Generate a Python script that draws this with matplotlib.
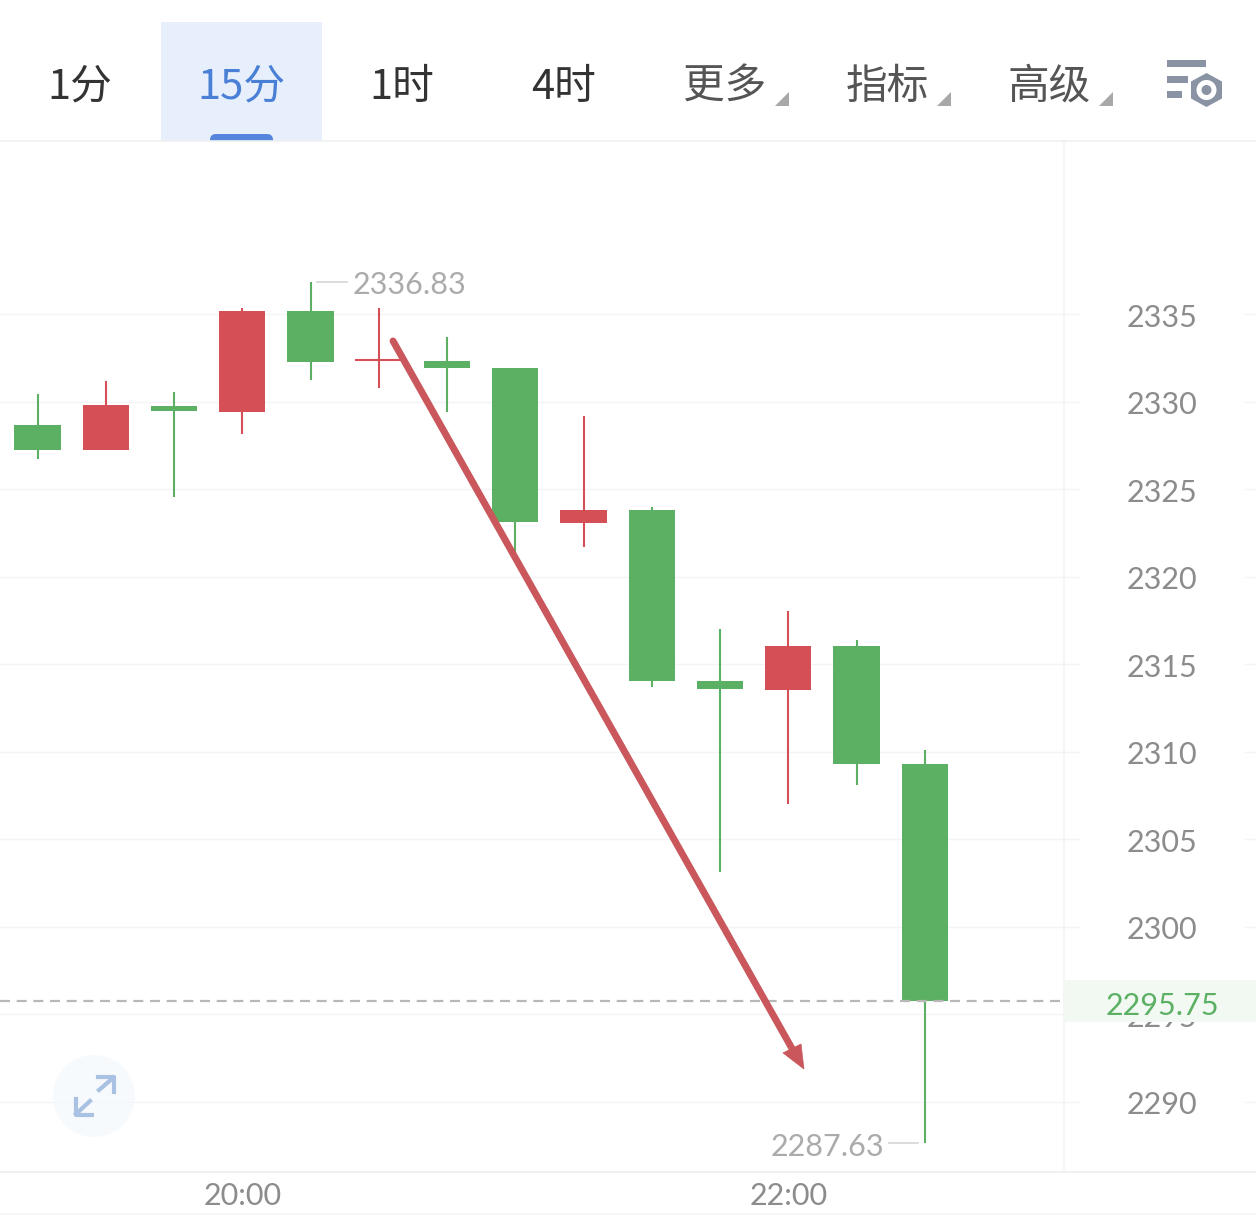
# -*- coding: utf-8 -*-
import matplotlib
matplotlib.use('Agg')
import matplotlib.pyplot as plt
from matplotlib.patches import Rectangle, Circle, Polygon, FancyBboxPatch

plt.rcParams['font.family'] = ['Noto Sans CJK SC', 'DejaVu Sans']

# candles, oldest first
highs = [2330.43, 2331.17, 2330.55, 2335.34, 2336.83, 2335.34, 2333.69,
         2331.92, 2329.17, 2323.98, 2317.01, 2318.04, 2316.38, 2310.10]
lows = [2326.72, 2327.23, 2324.55, 2328.15, 2331.23, 2330.77, 2329.40,
        2321.41, 2321.69, 2313.70, 2303.13, 2307.02, 2308.10, 2287.63]
opens = [2328.66, 2327.23, 2329.75, 2329.40, 2335.17, 2332.37, 2332.32,
         2331.92, 2323.06, 2323.81, 2314.04, 2313.53, 2316.04, 2309.30]
closes = [2327.23, 2329.80, 2329.46, 2335.17, 2332.26, 2332.37, 2331.92,
          2323.12, 2323.81, 2314.04, 2313.58, 2316.04, 2309.30, 2295.75]
is_up = [False, True, False, True, False, True, False,
         False, True, False, False, True, False, False]

y_ticks = [2335, 2330, 2325, 2320, 2315, 2310, 2305, 2300, 2295, 2290]
x_tick_pos = [3, 11]
x_tick_labels = ['20:00', '22:00']
tabs = ['1分', '15分', '1时', '4时', '更多', '指标', '高级']

last_price = 2295.75
high_price = 2336.83
low_price = 2287.63

# hand drawn arrow: (bar position, price)
arrow_start = (5.209, 2333.46)
arrow_neck = (11.055, 2293.05)
arrow_head_x = [10.923, 11.187, 11.23]
arrow_head_y = [2292.80, 2293.31, 2291.88]

GREEN = '#5cb064'
RED = '#d45056'
W, H = 1256, 1220

# pixel calibration of the screenshot
PX_PER_UNIT = 17.51
PX_PER_BAR = 68.25
X0 = 37.5
Y_2335 = 314
LABEL_DY = 3.5 / PX_PER_UNIT  # centres the digits on the price

fig = plt.figure(figsize=(W / 100, H / 100), dpi=100, facecolor='white')
ax = fig.add_axes([0, 0, 1, 1])
ax.set_xlim(-X0 / PX_PER_BAR, (W - X0) / PX_PER_BAR)
ax.set_ylim(2335 - (H - Y_2335) / PX_PER_UNIT, 2335 + Y_2335 / PX_PER_UNIT)
ax.axis('off')

'''Grid and axis labels'''
ytrans = ax.get_yaxis_transform()
xtrans = ax.get_xaxis_transform()
for v in y_ticks:
    ax.plot([0, 1079 / W], [v, v], color='#f3f4f5', lw=1.0, transform=ytrans, zorder=1)
    ax.plot([1245 / W, 1], [v, v], color='#f3f4f5', lw=1.0, transform=ytrans, zorder=1)
    ax.text(1162 / W, v - LABEL_DY, str(v), transform=ytrans, ha='center', va='center',
            fontsize=22, color='#8c8c8c', family='Lato', zorder=2)
for pos, lab in zip(x_tick_pos, x_tick_labels):
    ax.text(pos, 1 - 1196 / H, lab, transform=xtrans, ha='center', va='center',
            fontsize=22, color='#8c8c8c', family='Lato', zorder=2)

'''Candles'''
for i in range(len(highs)):
    col = RED if is_up[i] else GREEN
    ax.plot([i, i], [lows[i], highs[i]], color=col, lw=1.5, zorder=3, solid_capstyle='butt')
    if opens[i] == closes[i]:
        ax.plot([i - 0.337, i + 0.337], [opens[i], opens[i]], color=col, lw=1.5, zorder=3)
    else:
        bottom = min(opens[i], closes[i])
        ax.bar(i, abs(closes[i] - opens[i]), bottom=bottom, width=0.674, color=col,
               linewidth=0, zorder=3)

ax.axhline(last_price, xmin=0, xmax=1064 / W, color='#b8b8b8', lw=1.6,
           dashes=(4.5, 3), zorder=4)

# high / low markers
ax.plot([4.1, 4.53], [high_price, high_price], color='#d6d6d6', lw=1.2, zorder=3)
ax.text(4.62, high_price - LABEL_DY, f'{high_price:.2f}', ha='left', va='center', fontsize=22,
        color='#ababab', family='Lato', zorder=3)
ax.plot([12.47, 12.9], [low_price, low_price], color='#d6d6d6', lw=1.2, zorder=3)
ax.text(12.4, low_price - LABEL_DY, f'{low_price:.2f}', ha='right', va='center', fontsize=22,
        color='#ababab', family='Lato', zorder=3)

# red arrow drawn over the chart
ax.plot([arrow_start[0], arrow_neck[0]], [arrow_start[1], arrow_neck[1]], color='#c9575c',
        lw=5, solid_capstyle='round', zorder=5)
ax.fill(arrow_head_x, arrow_head_y, color='#c9575c', lw=0.5, zorder=5)

'''Header and other screen parts, in pixels'''
ov = fig.add_axes([0, 0, 1, 1])
ov.set_xlim(0, W)
ov.set_ylim(H, 0)
ov.axis('off')
ov.patch.set_alpha(0)

ov.add_patch(Rectangle((161, 22), 161, 119, color='#e6effb', lw=0))
ov.add_patch(FancyBboxPatch((210, 134), 63, 26, boxstyle='round,pad=0,rounding_size=6',
                            facecolor='#5585dc', edgecolor='none', lw=0))
ov.add_patch(Rectangle((150, 141), 200, 25, color='white', lw=0))

ov.plot([0, W], [141, 141], color='#eff0f2', lw=1.2)
ov.plot([0, W], [1172, 1172], color='#f0f0f0', lw=1.5)
ov.plot([0, W], [1214, 1214], color='#f6f6f6', lw=1.5)
ov.plot([1064, 1064], [142, 1172], color='#f3f3f4', lw=1.2)

tab_x = [80, 241, 402, 563, 725, 887, 1049]
tab_col = ['#333333', '#4a7fd6', '#333333', '#333333', '#555555', '#555555', '#555555']
for x, t, c in zip(tab_x, tabs, tab_col):
    ov.text(x, 87, t, ha='center', va='center', fontsize=30, color=c, fontweight='light')
for x in [775, 937, 1099]:
    ov.add_patch(Polygon([(x, 106), (x + 14, 106), (x + 14, 92)], color='#a8a8a8', lw=0))

# settings icon
ICON = '#8a93a3'
ov.add_patch(Rectangle((1167, 60), 39, 7, color=ICON, lw=0))
ov.add_patch(Rectangle((1167, 76), 21, 7, color=ICON, lw=0))
ov.add_patch(Rectangle((1167, 91), 15, 7, color=ICON, lw=0))
ov.add_patch(Polygon([(1206.5, 73), (1222, 81.5), (1222, 98.5), (1206.5, 107), (1191, 98.5), (1191, 81.5)],
                     closed=True, color=ICON, lw=0))
ov.add_patch(Circle((1206.5, 90), 10, color='white', lw=0))
ov.add_patch(Circle((1206.5, 90), 5, color=ICON, lw=0))

# expand button
ov.add_patch(Circle((94, 1096), 41, color='#f3f7fd', alpha=0.6, lw=0))
ARR = '#a9c1e3'
ov.plot([99, 113], [1090, 1078], color=ARR, lw=3)
ov.plot([98, 114, 114], [1077, 1077, 1092], color=ARR, lw=3)
ov.plot([90, 76], [1101, 1114], color=ARR, lw=3)
ov.plot([76, 76, 92], [1099, 1115, 1115], color=ARR, lw=3)

# last price tag covers the 2295 axis label
ov.add_patch(Rectangle((1065, 980), W - 1065, 42, color='#f1f9f2', lw=0))
ov.text(1162, 1006, f'{last_price:.2f}', ha='center', va='center', fontsize=22,
        color=GREEN, family='Lato')

fig.savefig('out.png', dpi=100)
